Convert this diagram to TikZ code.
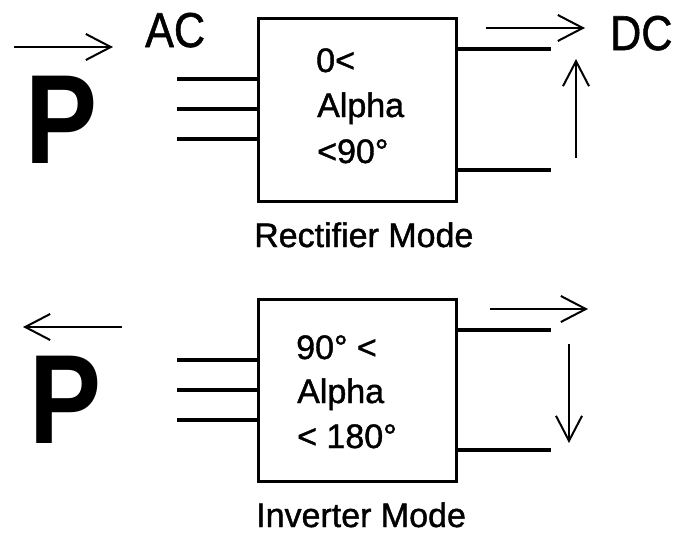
\documentclass[tikz,border=0pt]{standalone}
\usepackage{fontspec}
\setmainfont{Liberation Sans}
\newfontfamily\heavyfont[FakeBold=1.2]{Liberation Sans}
\usetikzlibrary{arrows.meta}
\begin{document}
\begin{tikzpicture}[x=1pt,y=-1pt,
  boxstyle/.style={draw,line width=3pt,minimum width=198pt,minimum height=183pt,inner sep=0pt},
  lead/.style={line width=4.5pt},
  flow/.style={line width=2pt,-{Straight Barb[length=25pt,width=26pt,line width=2pt]}},
  txt/.style={font=\heavyfont\fontsize{34}{40}\selectfont,inner sep=0pt,anchor=base west},
  big/.style={font=\heavyfont\fontsize{49}{52}\selectfont,inner sep=0pt,anchor=base west,xscale=0.88},
  pp/.style={font=\bfseries\fontsize{127}{130}\selectfont,inner sep=0pt,anchor=base west,xscale=0.85},
]
\useasboundingbox (0,0) rectangle (679,536);

% ---------- Rectifier ----------
\node[boxstyle] (rbox) at (357,109.5) {};
\node[txt] (rt1) at (316,72) {0<};
\node[txt] (rt2) at (317,117) {Alpha};
\node[txt] (rt3) at (317,163) {<90°};
\node[txt] (rlabel) at (254,247) {Rectifier Mode};
\node[big] (ac) at (145,47) {AC};
\node[big] (dc) at (610,50) {DC};
\node[pp] (rp) at (25,163) {P};

\coordinate (ra1) at (177,79);
\coordinate (ra2) at (177,109);
\coordinate (ra3) at (177,139);
\draw[lead] (ra1) -- (ra1 -| rbox.west);
\draw[lead] (ra2) -- (ra2 -| rbox.west);
\draw[lead] (ra3) -- (ra3 -| rbox.west);
\coordinate (rd1) at (551,49);
\coordinate (rd2) at (551,170);
\draw[lead] (rd1 -| rbox.east) -- (rd1);
\draw[lead] (rd2 -| rbox.east) -- (rd2);

\coordinate (rf1s) at (14,47);  \coordinate (rf1e) at (113,47);
\coordinate (rf2s) at (486,28); \coordinate (rf2e) at (585,28);
\coordinate (rf3s) at (576,158); \coordinate (rf3e) at (576,59);
\draw[flow] (rf1s) -- (rf1e);
\draw[flow] (rf2s) -- (rf2e);
\draw[flow] (rf3s) -- (rf3e);

% ---------- Inverter ----------
\node[boxstyle,minimum height=182pt] (ibox) at (357,390) {};
\node[txt] (it1) at (296,359) {90° <};
\node[txt] (it2) at (297,403) {Alpha};
\node[txt] (it3) at (297,448) {< 180°};
\node[txt] (ilabel) at (256,527) {Inverter Mode};
\node[pp] (ip) at (29,443) {P};

\coordinate (ia1) at (177,360);
\coordinate (ia2) at (177,390);
\coordinate (ia3) at (177,420);
\draw[lead] (ia1) -- (ia1 -| ibox.west);
\draw[lead] (ia2) -- (ia2 -| ibox.west);
\draw[lead] (ia3) -- (ia3 -| ibox.west);
\coordinate (id1) at (551,330);
\coordinate (id2) at (551,450);
\draw[lead] (id1 -| ibox.east) -- (id1);
\draw[lead] (id2 -| ibox.east) -- (id2);

\coordinate (if1s) at (122,327); \coordinate (if1e) at (23,327);
\coordinate (if2s) at (490,309); \coordinate (if2e) at (588,309);
\coordinate (if3s) at (569,344); \coordinate (if3e) at (569,443);
\draw[flow] (if1s) -- (if1e);
\draw[flow] (if2s) -- (if2e);
\draw[flow] (if3s) -- (if3e);
\end{tikzpicture}
\end{document}
